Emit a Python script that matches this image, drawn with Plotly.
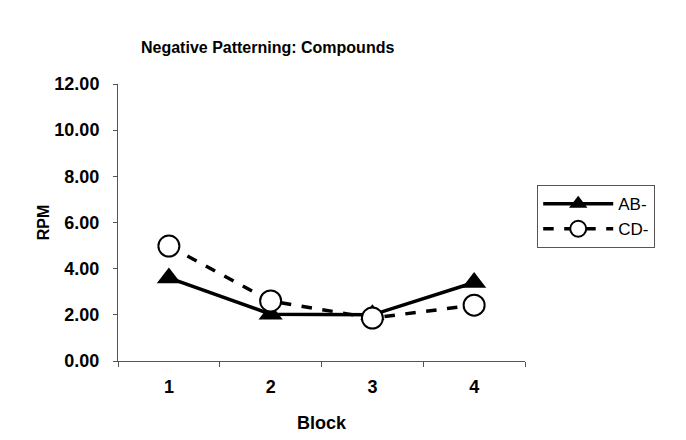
import plotly.graph_objects as go

blocks = [1, 2, 3, 4]
ab_values = [3.6, 2.03, 2.0, 3.4]
cd_values = [4.98, 2.6, 1.86, 2.42]
y_ticks = [0, 2, 4, 6, 8, 10, 12]

fig = go.Figure()
fig.add_trace(go.Scatter(
    x=blocks, y=ab_values, name="AB-", mode="lines+markers",
    line=dict(color="black", width=3.5),
    marker=dict(symbol="triangle-up", size=21, color="black"),
))
fig.add_trace(go.Scatter(
    x=blocks, y=cd_values, name="CD-", mode="lines+markers",
    line=dict(color="black", width=3.5, dash="dash"),
    marker=dict(symbol="circle", size=21, color="white", line=dict(color="black", width=2)),
))

font_family = "Liberation Sans, Arial, sans-serif"
fig.update_layout(
    width=678, height=432,
    paper_bgcolor="white", plot_bgcolor="white",
    margin=dict(l=110, r=161, t=76, b=79, autoexpand=False),
    title=dict(text="<b>Negative Patterning: Compounds</b>", x=0.383, xanchor="center",
               y=1 - 39 / 432, yanchor="middle",
               font=dict(family=font_family, size=16, color="black")),
    font=dict(family=font_family, size=17, color="black"),
    showlegend=True,
    legend=dict(x=1.03, y=0.635, xanchor="left", yanchor="top",
                bordercolor="#555", borderwidth=1, bgcolor="white",
                font=dict(family=font_family, size=17, color="black"),
                tracegroupgap=6, itemwidth=70),
)
fig.update_xaxes(
    automargin=False,
    range=[0.5, 4.5], tickvals=blocks, ticktext=["<b>%d</b>" % b for b in blocks],
    ticks="", showline=True, linecolor="#555", linewidth=1, showgrid=False, zeroline=False,
    minor=dict(tickvals=[0.5, 1.5, 2.5, 3.5, 4.5], ticks="outside", ticklen=5, tickcolor="#555"),
    ticklabelstandoff=9,
    title=dict(text="<b>Block</b>", font=dict(family=font_family, size=18), standoff=20),
    tickfont=dict(family=font_family, size=18, color="black"),
)
fig.update_yaxes(
    automargin=False,
    range=[0, 12], tickvals=y_ticks, ticktext=["<b>%.2f</b>" % v for v in y_ticks],
    ticks="outside", ticklen=4, tickcolor="#555",
    showline=True, linecolor="#555", linewidth=1, showgrid=False, zeroline=False,
    ticklabelstandoff=10,
    title=dict(text="<b>RPM</b>", font=dict(family=font_family, size=16), standoff=0),
    tickfont=dict(family=font_family, size=18, color="black"),
)

fig.write_html("out.html")
